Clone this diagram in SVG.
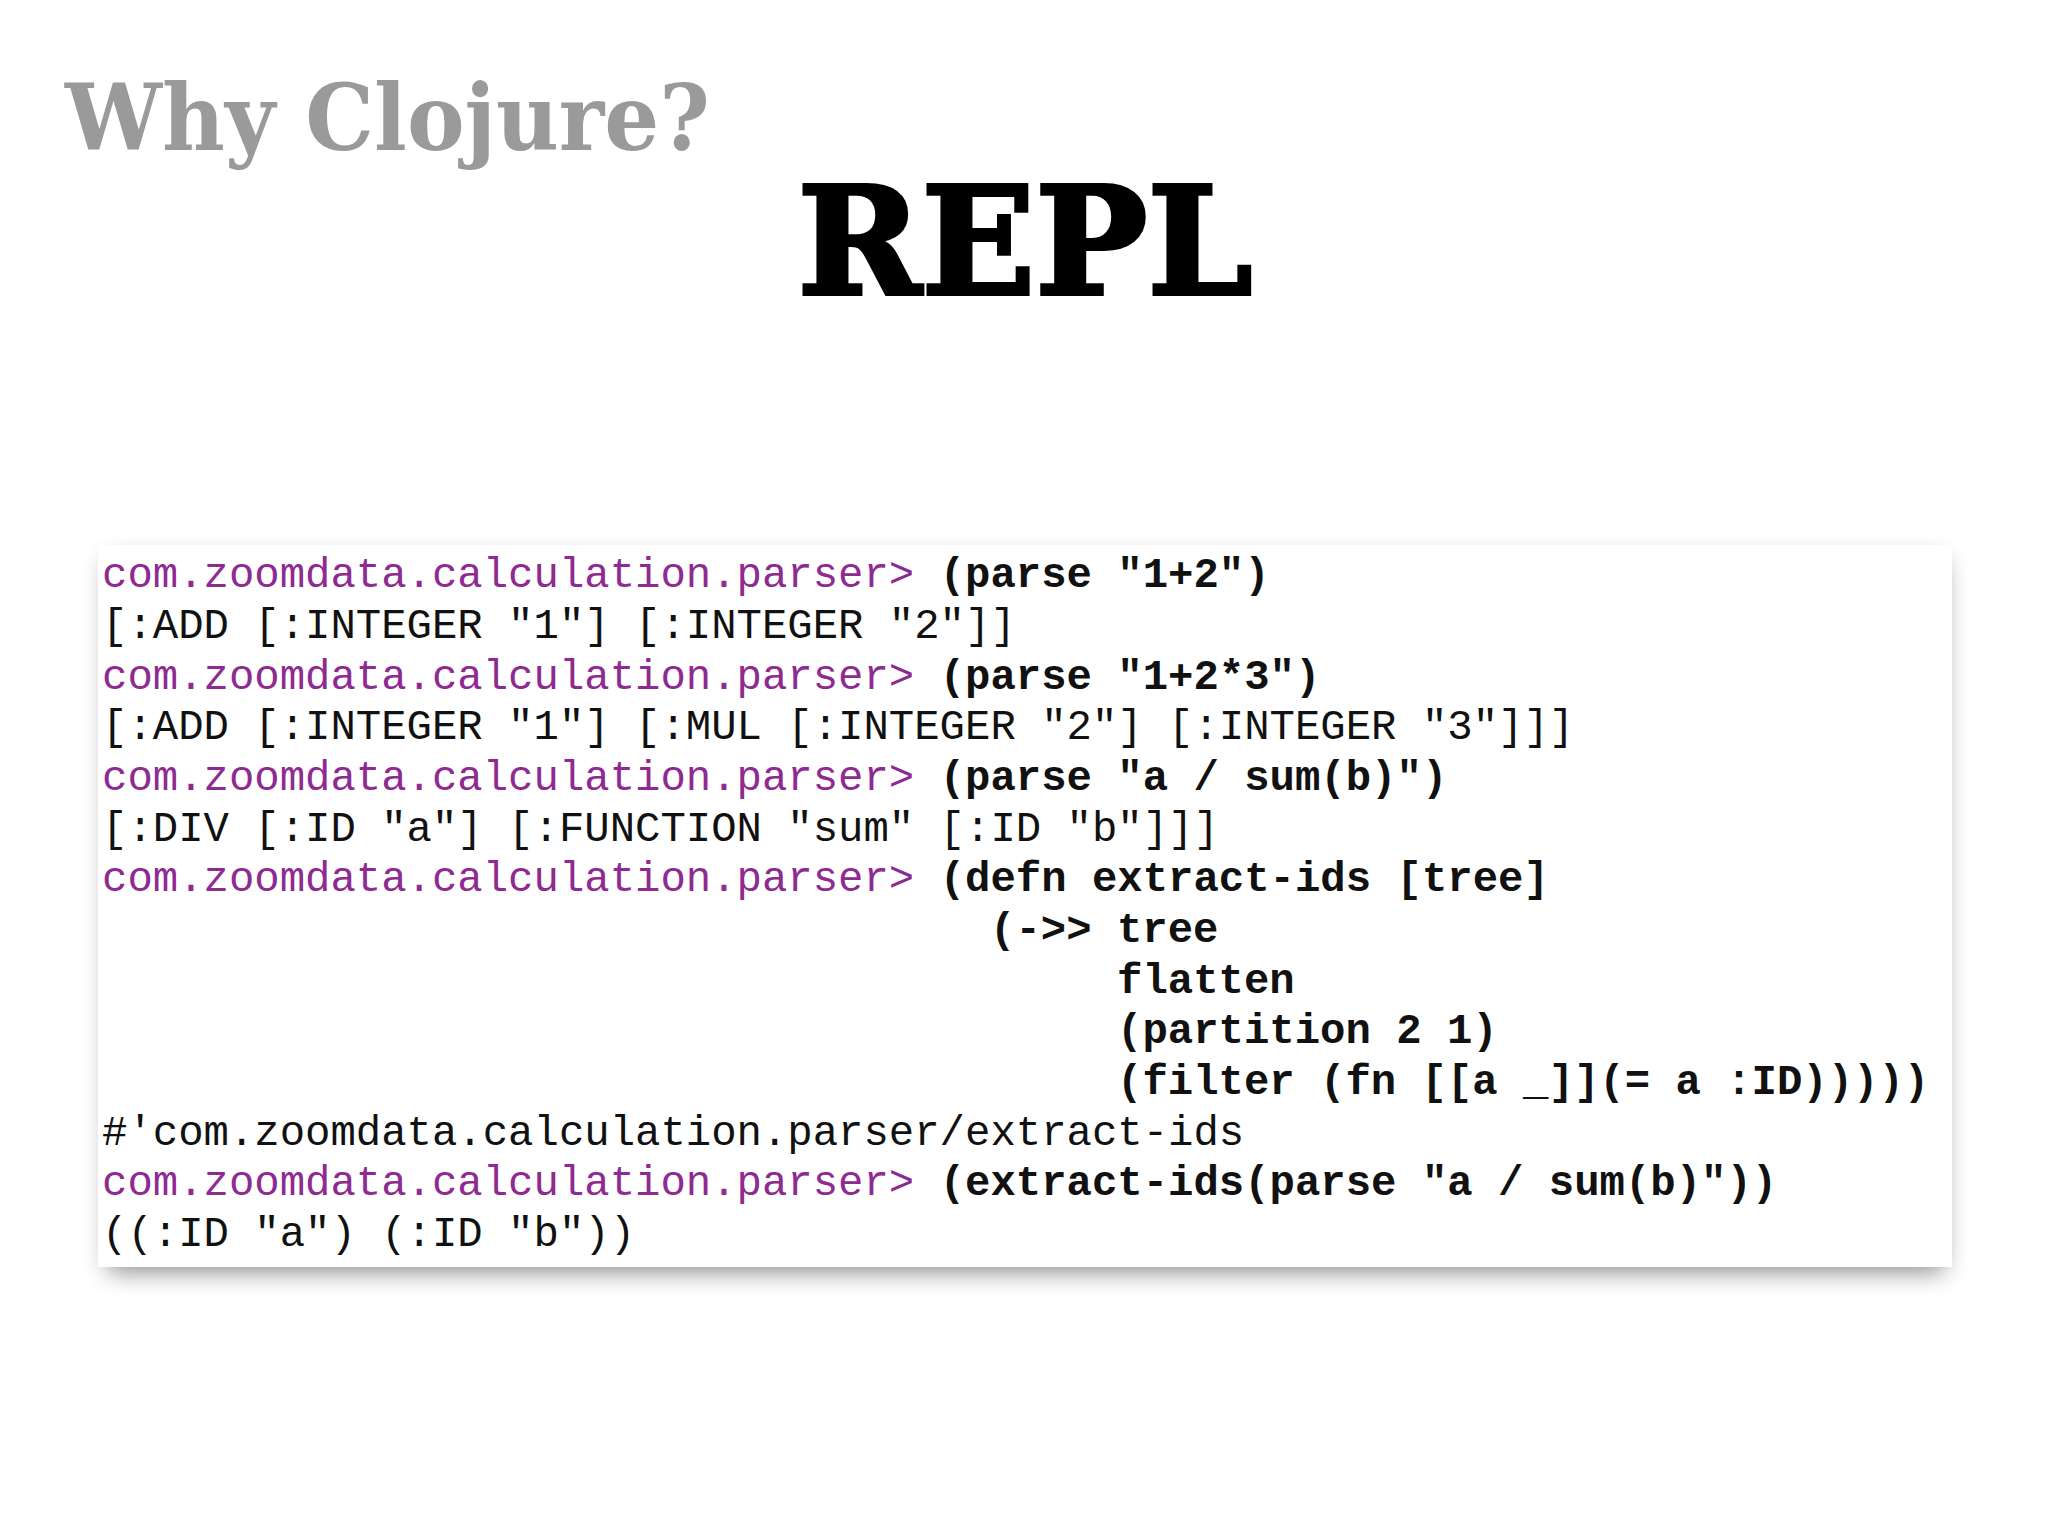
<svg xmlns="http://www.w3.org/2000/svg" width="2048" height="1536" viewBox="0 0 2048 1536">
<defs>
<filter id="sh" x="-5%" y="-5%" width="110%" height="120%"><feGaussianBlur stdDeviation="12"/></filter>
<style>
.m{font-family:"Liberation Mono","DejaVu Sans Mono",monospace;font-size:42.3px;fill:#111;white-space:pre}
.p{fill:#8e2a91}
.b{font-weight:bold}
</style>
</defs>
<rect width="2048" height="1536" fill="#fff"/>
<g id="title"><text x="65" y="150" font-family="DejaVu Serif,serif" font-weight="bold" font-size="92" fill="#9a9a9a" textLength="645" lengthAdjust="spacingAndGlyphs">Why Clojure?</text></g>
<g id="heading"><text x="1025" y="294" text-anchor="middle" font-family="DejaVu Serif,serif" font-weight="bold" font-size="150" fill="#000" stroke="#000" stroke-width="4" textLength="455" lengthAdjust="spacingAndGlyphs">REPL</text></g>
<g id="screenshot">
<rect x="108" y="560" width="1836" height="712" fill="#000" opacity="0.45" filter="url(#sh)"/>
<rect x="98" y="545" width="1854" height="722" fill="#fff"/>
<text class="m" xml:space="preserve">
<tspan x="102" y="587"><tspan class="p">com.zoomdata.calculation.parser&gt; </tspan><tspan class="b">(parse "1+2")</tspan></tspan>
<tspan x="102" y="638">[:ADD [:INTEGER "1"] [:INTEGER "2"]]</tspan>
<tspan x="102" y="689"><tspan class="p">com.zoomdata.calculation.parser&gt; </tspan><tspan class="b">(parse "1+2*3")</tspan></tspan>
<tspan x="102" y="739">[:ADD [:INTEGER "1"] [:MUL [:INTEGER "2"] [:INTEGER "3"]]]</tspan>
<tspan x="102" y="790"><tspan class="p">com.zoomdata.calculation.parser&gt; </tspan><tspan class="b">(parse "a / sum(b)")</tspan></tspan>
<tspan x="102" y="841">[:DIV [:ID "a"] [:FUNCTION "sum" [:ID "b"]]]</tspan>
<tspan x="102" y="891"><tspan class="p">com.zoomdata.calculation.parser&gt; </tspan><tspan class="b">(defn extract-ids [tree]</tspan></tspan>
<tspan x="990" y="942" class="b">(-&gt;&gt; tree</tspan>
<tspan x="1117" y="993" class="b">flatten</tspan>
<tspan x="1117" y="1043" class="b">(partition 2 1)</tspan>
<tspan x="1117" y="1094" class="b">(filter (fn [[a _]](= a :ID)))))</tspan>
<tspan x="102" y="1145">#'com.zoomdata.calculation.parser/extract-ids</tspan>
<tspan x="102" y="1195"><tspan class="p">com.zoomdata.calculation.parser&gt; </tspan><tspan class="b">(extract-ids(parse "a / sum(b)"))</tspan></tspan>
<tspan x="102" y="1246">((:ID "a") (:ID "b"))</tspan>
</text>
</g>
</svg>
